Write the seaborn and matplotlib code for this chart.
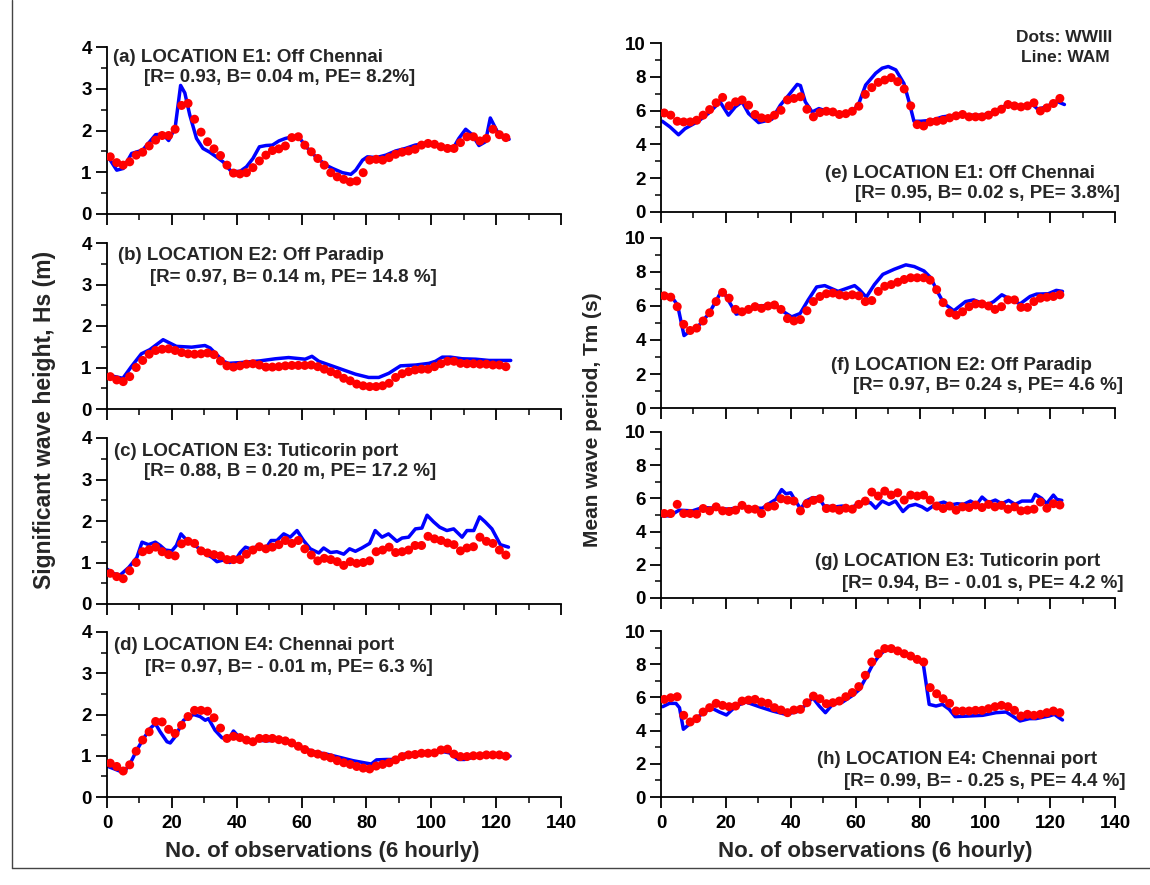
import numpy as np
import matplotlib
matplotlib.use("Agg")
import matplotlib.pyplot as plt
from matplotlib.ticker import MultipleLocator
from matplotlib.lines import Line2D
import seaborn as sns

# observation number of the WWIII dots (every second record)
obs = np.arange(1, 124, 2)

# ---- Hs (m) ----
hs_e1_dots = [1.37, 1.23, 1.17, 1.25, 1.41, 1.48, 1.63, 1.77, 1.88, 1.88,
              2.03, 2.60, 2.65, 2.27, 1.96, 1.73, 1.56, 1.40, 1.17, 0.98,
              0.96, 0.99, 1.11, 1.27, 1.41, 1.52, 1.56, 1.63, 1.83, 1.85,
              1.65, 1.49, 1.33, 1.17, 0.99, 0.89, 0.83, 0.77, 0.79, 0.99,
              1.29, 1.31, 1.29, 1.35, 1.43, 1.48, 1.51, 1.55, 1.65, 1.69,
              1.67, 1.61, 1.57, 1.57, 1.71, 1.85, 1.85, 1.75, 1.81, 2.03,
              1.90, 1.83]
hs_e1_line_x = [1, 3, 5, 7.6, 11, 15, 17.3, 19, 21, 22.7, 24, 25.5, 27.6, 29.6, 31.7,
                33.7, 35.8, 38.3, 41, 43, 45, 47, 49, 51, 53, 55, 57.3, 59.3, 61.4, 64.4,
                67.5, 69.6, 72.6, 75.2, 76.7, 78.8, 80.3, 83, 86, 89, 92, 95, 98, 101, 104,
                107, 108.5, 110.6, 112.6, 114.7, 116.7, 118.2, 120.3, 121.8, 124]
hs_e1_line = [1.29, 1.05, 1.09, 1.45, 1.53, 1.90, 1.91, 1.76, 2.06, 3.08, 2.90, 2.38, 1.81, 1.57, 1.48,
              1.37, 1.25, 1.02, 1.02, 1.13, 1.33, 1.61, 1.64, 1.65, 1.75, 1.81, 1.85, 1.83, 1.61, 1.37,
              1.17, 1.09, 0.99, 0.95, 1.05, 1.29, 1.37, 1.35, 1.41, 1.51, 1.57, 1.65, 1.69, 1.67, 1.61,
              1.61, 1.81, 2.03, 1.90, 1.64, 1.73, 2.30, 1.98, 1.85, 1.79]

hs_e2_dots = [0.78, 0.70, 0.66, 0.78, 1.00, 1.17, 1.32, 1.41, 1.44, 1.45,
              1.41, 1.36, 1.33, 1.32, 1.33, 1.35, 1.31, 1.16, 1.04, 1.01,
              1.04, 1.08, 1.09, 1.06, 1.01, 1.01, 1.02, 1.04, 1.05, 1.05,
              1.05, 1.06, 1.02, 0.96, 0.90, 0.84, 0.74, 0.68, 0.60, 0.56,
              0.54, 0.54, 0.56, 0.62, 0.76, 0.85, 0.90, 0.94, 0.96, 0.96,
              1.02, 1.09, 1.15, 1.15, 1.10, 1.09, 1.09, 1.08, 1.08, 1.06,
              1.06, 1.02]
hs_e2_line_x = [0, 4.9, 7.5, 10.6, 13.2, 17.3, 21.4, 26.1, 30.2, 31.8, 35.9, 37.4, 41.5, 47.2,
                51.9, 56, 61.1, 63.2, 65.3, 70.4, 76.6, 80.7, 83.8, 86.9, 90.5, 95.2, 99.3,
                101.3, 103.4, 105.9, 109.6, 113.7, 117.8, 120.9, 124.5]
hs_e2_line = [0.82, 0.74, 1.02, 1.33, 1.43, 1.67, 1.51, 1.49, 1.53, 1.47, 1.15, 1.10, 1.12, 1.16,
              1.21, 1.24, 1.20, 1.27, 1.15, 1.01, 0.84, 0.76, 0.76, 0.86, 1.04, 1.06, 1.10,
              1.15, 1.25, 1.25, 1.21, 1.20, 1.17, 1.17, 1.17]

hs_e3_dots = [0.74, 0.66, 0.61, 0.80, 1.00, 1.26, 1.31, 1.37, 1.26, 1.19,
              1.16, 1.45, 1.51, 1.46, 1.28, 1.23, 1.19, 1.16, 1.07, 1.07,
              1.07, 1.20, 1.30, 1.38, 1.33, 1.37, 1.43, 1.53, 1.46, 1.53,
              1.33, 1.18, 1.04, 1.10, 1.07, 1.02, 0.93, 1.02, 0.98, 1.00,
              1.04, 1.26, 1.30, 1.37, 1.24, 1.26, 1.30, 1.41, 1.41, 1.63,
              1.57, 1.53, 1.47, 1.43, 1.28, 1.35, 1.38, 1.61, 1.51, 1.46,
              1.30, 1.18]
hs_e3_line_x = [0, 2.1, 4.1, 6.7, 9.2, 10.8, 12.8, 14.9, 16.4, 18, 20, 21.4, 22.8, 24.9, 27.7,
                29.8, 32.4, 33.9, 35.9, 37.8, 39.6, 41.1, 42.7, 44.2, 46.2, 49.3, 50.6, 52.4,
                54.5, 56.5, 58.6, 60.6, 62.7, 65.3, 66.8, 68.9, 70.9, 73, 74.8, 76.6, 78.6, 81,
                82.7, 84.8, 86.8, 89.4, 91, 93, 95.1, 97.1, 98.7, 100.7, 102.6, 104.8, 106.9,
                109.5, 111, 113.1, 114.9, 116.6, 118.7, 121.3, 123.8]
hs_e3_line = [0.84, 0.73, 0.70, 0.88, 1.12, 1.49, 1.43, 1.49, 1.41, 1.30, 1.28, 1.41, 1.69, 1.51, 1.38,
              1.24, 1.12, 1.02, 1.06, 1.00, 1.06, 1.24, 1.37, 1.33, 1.38, 1.38, 1.53, 1.53,
              1.69, 1.61, 1.77, 1.53, 1.33, 1.23, 1.35, 1.24, 1.26, 1.20, 1.33, 1.27, 1.35, 1.46,
              1.77, 1.61, 1.69, 1.51, 1.59, 1.61, 1.81, 1.83, 2.14, 1.98, 1.85, 1.77, 1.81,
              1.61, 1.77, 1.77, 2.10, 1.98, 1.81, 1.43, 1.37]

hs_e4_dots = [0.82, 0.74, 0.63, 0.78, 1.11, 1.38, 1.58, 1.83, 1.82, 1.64,
              1.54, 1.74, 1.95, 2.10, 2.10, 2.08, 1.92, 1.67, 1.42, 1.47,
              1.44, 1.38, 1.34, 1.42, 1.42, 1.42, 1.39, 1.36, 1.31, 1.23,
              1.15, 1.07, 1.04, 0.99, 0.95, 0.88, 0.83, 0.79, 0.74, 0.70,
              0.68, 0.75, 0.79, 0.83, 0.90, 0.98, 1.02, 1.03, 1.06, 1.06,
              1.07, 1.14, 1.16, 1.04, 0.98, 0.98, 1.00, 1.00, 1.02, 1.02,
              1.02, 0.99]
hs_e4_line_x = [0, 2.6, 5.1, 7.2, 9.2, 11.3, 13.3, 14.9, 16.4, 18.5, 19.5, 21, 23.6, 26.7, 28.7,
                30.3, 31.3, 33.3, 35.4, 37.4, 39, 40.5, 43.1, 46.2, 49.2, 52.3, 55.4, 59.5, 63.6,
                67.7, 71.8, 75.9, 80, 81.5, 83.1, 86.2, 89.2, 91.8, 95.4, 99.5, 103.6, 105.6,
                108.2, 110.3, 113.8, 117.9, 121, 124.3]
hs_e4_line = [0.75, 0.67, 0.59, 0.82, 1.14, 1.42, 1.66, 1.78, 1.58, 1.34, 1.31, 1.46, 1.86, 2.00, 1.95,
              1.86, 1.90, 1.62, 1.44, 1.38, 1.60, 1.47, 1.34, 1.38, 1.36, 1.38, 1.36, 1.22, 1.10,
              1.04, 0.96, 0.88, 0.82, 0.80, 0.90, 0.91, 0.91, 1.04, 1.06, 1.07, 1.10, 1.07,
              0.91, 0.91, 0.98, 0.99, 1.02, 0.99]

# ---- Tm (s) ----
tm_e1_dots = [5.86, 5.73, 5.37, 5.33, 5.33, 5.43, 5.73, 6.06, 6.46, 6.78,
              6.28, 6.52, 6.63, 6.32, 5.77, 5.57, 5.53, 5.73, 6.02, 6.63,
              6.72, 6.82, 6.08, 5.63, 5.88, 5.96, 5.92, 5.77, 5.82, 5.96,
              6.26, 6.96, 7.36, 7.67, 7.81, 7.95, 7.71, 7.28, 6.28, 5.17,
              5.09, 5.33, 5.37, 5.43, 5.57, 5.69, 5.77, 5.63, 5.63, 5.63,
              5.73, 5.92, 6.08, 6.36, 6.28, 6.22, 6.28, 6.46, 5.98, 6.16,
              6.42, 6.72]
tm_e1_line_x = [0.4, 2.8, 5.4, 7.4, 11.5, 14.6, 18.2, 20.8, 22.9, 25, 27, 30.1, 34.2, 36.8, 39.4,
                42, 43, 44.5, 46.6, 48.7, 51.8, 55.9, 59, 61, 63.1, 66.2, 68.2, 70.1, 72.4, 74.9,
                76.5, 78, 80.1, 83.7, 86.8, 90.9, 95.1, 99.2, 103.3, 106.4, 110.5, 114.6, 116.2,
                118.8, 121.9, 124.4]
tm_e1_line = [5.37, 5.03, 4.57, 4.93, 5.37, 5.83, 6.52, 5.73, 6.22, 6.52, 5.83, 5.29, 5.49, 6.32, 6.92,
              7.55, 7.48, 6.52, 5.92, 6.12, 5.92, 5.82, 5.92, 6.42, 7.51, 8.21, 8.51, 8.61, 8.41, 7.61,
              6.52, 5.37, 5.37, 5.43, 5.63, 5.73, 5.73, 5.73, 5.96, 6.32, 6.22, 6.36, 6.08,
              6.22, 6.56, 6.36]

tm_e2_dots = [6.60, 6.52, 5.96, 4.92, 4.56, 4.70, 5.12, 5.60, 6.26, 6.80,
              6.46, 5.80, 5.66, 5.80, 5.96, 5.86, 6.00, 6.06, 5.80, 5.26,
              5.12, 5.20, 5.72, 6.26, 6.56, 6.72, 6.76, 6.66, 6.60, 6.66,
              6.60, 6.26, 6.32, 6.86, 7.16, 7.26, 7.40, 7.56, 7.66, 7.66,
              7.66, 7.52, 6.96, 6.20, 5.60, 5.46, 5.66, 5.96, 6.12, 6.12,
              6.00, 5.80, 5.96, 6.36, 6.36, 5.92, 5.92, 6.26, 6.46, 6.52,
              6.56, 6.66]
tm_e2_line_x = [0.5, 3.6, 5.1, 7.1, 9.2, 11.7, 14.8, 18.9, 21, 23.2, 26, 30.1, 35.2, 37.8, 40.3,
                42.9, 45.4, 48, 50.5, 54.6, 59.7, 61.2, 63.3, 65.8, 68.4, 71.9, 75.5, 78.1, 81.1,
                83.2, 85.2, 87.2, 90.3, 93.9, 96.4, 100.5, 102.6, 105.1, 107.1, 110.7, 113.8,
                115.8, 119.4, 121.9, 123.8]
tm_e2_line = [6.66, 6.46, 6.06, 4.26, 4.56, 4.86, 5.56, 6.96, 6.26, 5.52, 5.66, 6.00, 6.06, 5.66, 5.36,
              5.56, 6.36, 7.12, 7.20, 6.86, 7.20, 6.96, 6.52, 7.26, 7.86, 8.16, 8.42, 8.32, 8.06,
              7.66, 6.86, 6.16, 5.72, 6.26, 6.36, 6.06, 6.26, 6.66, 6.46, 6.12, 6.56,
              6.70, 6.72, 6.92, 6.86]

tm_e3_dots = [5.09, 5.09, 5.64, 5.09, 5.09, 5.05, 5.39, 5.25, 5.49, 5.25,
              5.21, 5.29, 5.58, 5.35, 5.35, 5.09, 5.49, 5.54, 5.98, 5.90,
              5.84, 5.25, 5.68, 5.88, 5.98, 5.39, 5.41, 5.29, 5.41, 5.35,
              5.64, 5.84, 6.38, 6.14, 6.44, 6.20, 6.34, 5.90, 6.20, 6.14,
              6.20, 5.90, 5.54, 5.39, 5.54, 5.29, 5.49, 5.45, 5.60, 5.45,
              5.64, 5.49, 5.58, 5.35, 5.49, 5.25, 5.29, 5.35, 5.78, 5.41,
              5.68, 5.60]
tm_e3_line_x = [0.3, 2.6, 5.6, 9.7, 12.8, 16.9, 21, 25.1, 29.2, 31.3, 33.3, 35.4, 37.2, 38.5, 40,
                41.5, 43.1, 44.6, 46.7, 48.7, 50.3, 53.8, 55.9, 58.5, 60.5, 63.1, 64.6, 66.2, 68.2,
                70.3, 72.3, 74.6, 76.4, 78.5, 80.5, 82.1, 84.6, 87.2, 89.2, 91.3, 93.3, 95.4, 97.4,
                99, 101, 103.1, 105.1, 107.2, 109.2, 111.3, 114.4, 115.4, 117.4, 118.9, 121,
                122.1, 123.6]
tm_e3_line = [4.95, 4.95, 5.29, 5.25, 5.45, 5.41, 5.35, 5.49, 5.41, 5.41, 5.68, 5.94, 6.53, 6.28, 6.34,
              5.84, 5.35, 5.84, 6.04, 6.04, 5.54, 5.49, 5.54, 5.41, 5.64, 5.74, 5.74, 5.41, 5.84,
              5.64, 5.84, 5.21, 5.54, 5.64, 5.49, 5.29, 5.64, 5.78, 5.60, 5.68, 5.64, 5.84, 5.64,
              6.08, 5.74, 5.90, 5.68, 5.88, 5.64, 5.84, 5.84, 6.24, 6.00, 5.68, 6.20,
              5.94, 5.88]

tm_e4_dots = [5.88, 5.98, 6.04, 4.92, 4.52, 4.72, 5.12, 5.38, 5.64, 5.52,
              5.44, 5.48, 5.78, 5.84, 5.88, 5.72, 5.64, 5.38, 5.24, 5.08,
              5.24, 5.28, 5.68, 6.08, 5.92, 5.62, 5.68, 5.78, 6.04, 6.29,
              6.65, 7.33, 8.13, 8.63, 8.94, 8.94, 8.80, 8.63, 8.49, 8.29,
              8.13, 6.59, 6.22, 5.92, 5.64, 5.18, 5.18, 5.18, 5.22, 5.22,
              5.32, 5.44, 5.52, 5.44, 5.22, 4.88, 4.98, 4.92, 4.98, 5.08,
              5.18, 5.08]
tm_e4_line_x = [0.5, 2.6, 4.6, 5.7, 6.9, 8.7, 11.8, 15.4, 18, 20.2, 23.1, 26.2, 30.3, 34.4, 38.5,
                42.7, 44.7, 46.8, 48.8, 50.7, 52.9, 56, 59.1, 61.2, 63.2, 65.3, 67.3, 69.4, 71.9,
                75.5, 78.6, 80.9, 82.7, 84.8, 86.8, 88.9, 90.7, 95.1, 99.2, 103.3, 106.4, 108.4,
                110.7, 113.6, 115.6, 119.7, 121.3, 123.8]
tm_e4_line = [5.44, 5.64, 5.64, 5.38, 4.08, 4.38, 4.88, 5.38, 5.12, 4.94, 5.48, 5.72, 5.44, 5.18, 4.98,
              5.18, 5.58, 5.98, 5.48, 5.08, 5.58, 5.72, 6.12, 6.48, 7.19, 7.99, 8.53, 8.90, 8.94,
              8.59, 8.33, 7.99, 5.58, 5.48, 5.58, 5.28, 4.84, 4.88, 4.92, 5.08, 5.12, 4.88,
              4.58, 4.72, 4.72, 4.88, 4.98, 4.64]

titles = ["(a) LOCATION E1: Off Chennai", "(b) LOCATION E2: Off Paradip",
          "(c) LOCATION E3: Tuticorin port", "(d) LOCATION E4: Chennai port",
          "(e) LOCATION E1: Off Chennai", "(f) LOCATION E2: Off Paradip",
          "(g) LOCATION E3: Tuticorin port", "(h) LOCATION E4: Chennai port"]
stats = ["[R= 0.93, B= 0.04 m, PE= 8.2%]", "[R= 0.97, B= 0.14 m, PE= 14.8 %]",
         "[R= 0.88, B = 0.20 m, PE= 17.2 %]", "[R= 0.97, B= - 0.01 m, PE= 6.3 %]",
         "[R= 0.95, B= 0.02 s, PE= 3.8%]", "[R= 0.97, B= 0.24 s, PE= 4.6 %]",
         "[R= 0.94, B= - 0.01 s, PE= 4.2 %]", "[R= 0.99, B= - 0.25 s, PE= 4.4 %]"]

dots = [hs_e1_dots, hs_e2_dots, hs_e3_dots, hs_e4_dots,
        tm_e1_dots, tm_e2_dots, tm_e3_dots, tm_e4_dots]
lines_x = [hs_e1_line_x, hs_e2_line_x, hs_e3_line_x, hs_e4_line_x,
           tm_e1_line_x, tm_e2_line_x, tm_e3_line_x, tm_e4_line_x]
lines_y = [hs_e1_line, hs_e2_line, hs_e3_line, hs_e4_line,
           tm_e1_line, tm_e2_line, tm_e3_line, tm_e4_line]

sns.set_style("ticks")
plt.rcParams["font.family"] = ["Liberation Sans", "DejaVu Sans"]
plt.rcParams["font.weight"] = "bold"
plt.rcParams["axes.labelweight"] = "bold"

W, H = 1150, 885
fig = plt.figure(figsize=(W / 100, H / 100), dpi=100)

# pixel boxes (left, right, top, bottom) for each panel
left_cols = (107, 561)
right_cols = (661, 1115)
left_rows = [(47, 214), (243, 409), (438, 604), (632, 797)]
right_rows = [(43, 212), (238, 408), (432, 598), (631, 797)]

# text anchor positions in pixels
title_pos = [(113, 57), (118, 256), (114, 452), (114, 645),
             (1095, 173), (1092, 365), (1100, 562), (1097, 760)]
stat_pos = [(144, 78), (150, 277), (144, 472), (145, 667),
            (1120, 193), (1123, 385), (1123, 583), (1125, 782)]


def px(x, y):
    return x / W, 1 - y / H


for i in range(8):
    col = left_cols if i < 4 else right_cols
    top, bot = (left_rows if i < 4 else right_rows)[i % 4]
    ax = fig.add_axes([col[0] / W, 1 - bot / H, (col[1] - col[0]) / W, (bot - top) / H])

    sns.lineplot(x=lines_x[i], y=lines_y[i], ax=ax, color="#0000ff", linewidth=2.5,
                 estimator=None, sort=False, zorder=2)
    sns.scatterplot(x=obs, y=dots[i], ax=ax, color="#ff0000", s=42, edgecolor="none",
                    linewidth=0, zorder=3)

    ax.set_xlim(0, 140)
    ax.xaxis.set_major_locator(MultipleLocator(20))
    ax.xaxis.set_minor_locator(MultipleLocator(10))
    if i < 4:
        ax.set_ylim(0, 4)
        ax.yaxis.set_major_locator(MultipleLocator(1))
        ax.yaxis.set_minor_locator(MultipleLocator(0.5))
    else:
        ax.set_ylim(0, 10)
        ax.yaxis.set_major_locator(MultipleLocator(2))
        ax.yaxis.set_minor_locator(MultipleLocator(1))

    sns.despine(ax=ax)
    for s in ["left", "bottom"]:
        ax.spines[s].set_linewidth(1.3)
        ax.spines[s].set_color("black")
    ax.tick_params(which="major", direction="out", length=8, width=1.3, pad=3,
                   labelsize=13.5, colors="black")
    ax.tick_params(which="minor", direction="out", length=4.5, width=1.3)
    ax.tick_params(axis="x", pad=5)
    if i % 4 != 3:
        ax.tick_params(axis="x", labelbottom=False)
    ax.set_xlabel("")
    ax.set_ylabel("")
    ax.patch.set_alpha(0)

    ha = "left" if i < 4 else "right"
    fig.text(*px(*title_pos[i]), titles[i], ha=ha, va="center", fontsize=13.5, fontweight="bold")
    fig.text(*px(*stat_pos[i]), stats[i], ha=ha, va="center", fontsize=13.5, fontweight="bold")

fig.text(*px(45, 420), "Significant wave height, Hs (m)", rotation=90, ha="center", va="center",
         fontsize=16.5, fontweight="bold")
fig.text(*px(593, 420), "Mean wave period, Tm (s)", rotation=90, ha="center", va="center",
         fontsize=15, fontweight="bold")
fig.text(*px(322, 852), "No. of observations (6 hourly)", ha="center", va="center",
         fontsize=16, fontweight="bold")
fig.text(*px(875, 852), "No. of observations (6 hourly)", ha="center", va="center",
         fontsize=16, fontweight="bold")
fig.text(*px(1112, 37), "Dots: WWIII", ha="right", va="center", fontsize=12.5, fontweight="bold")
fig.text(*px(1110, 58), "Line: WAM", ha="right", va="center", fontsize=12.5, fontweight="bold")

# thin frame of the original figure (left and bottom edges)
fig.add_artist(Line2D([12 / W, 12 / W], [1, 1 - 868 / H], color="#444444", linewidth=1))
fig.add_artist(Line2D([12 / W, 1], [1 - 868 / H, 1 - 868 / H], color="#444444", linewidth=1))

fig.savefig("out.png", dpi=100, facecolor="white")
